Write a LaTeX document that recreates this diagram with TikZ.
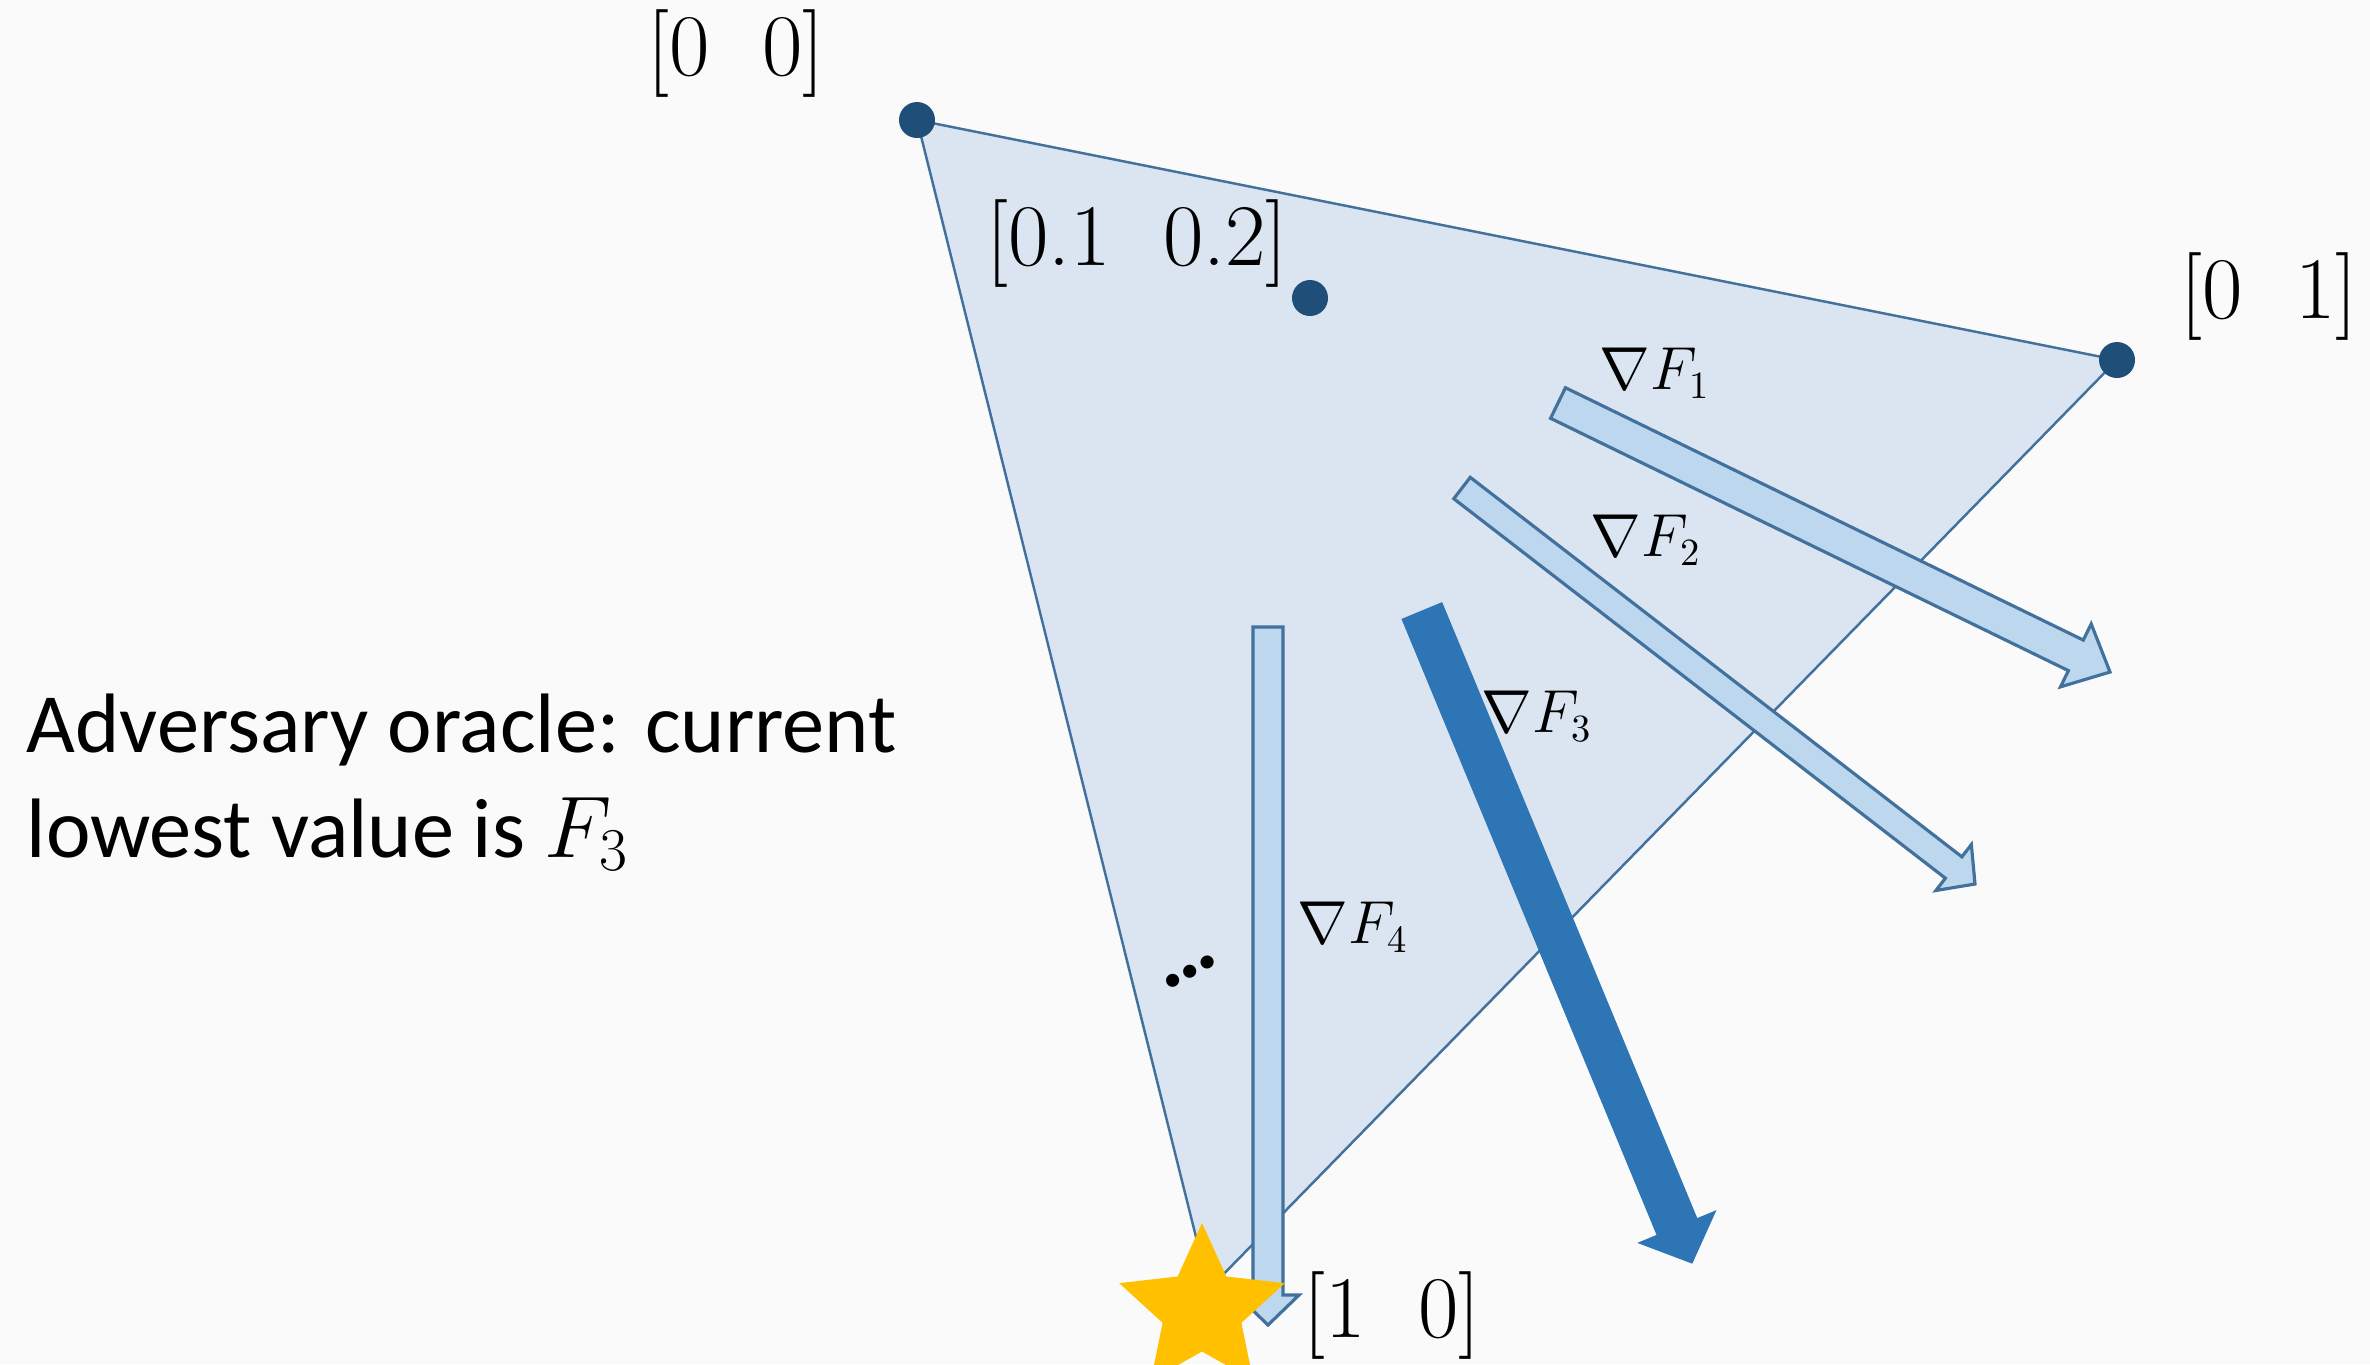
\documentclass[tikz,border=0pt]{standalone}
\usepackage{fontspec}
\newfontfamily\calibri{Carlito}
\usetikzlibrary{calc, shapes.geometric}

\definecolor{paper}{RGB}{250,250,250}
\definecolor{simplexfill}{RGB}{218,229,241}
\definecolor{edgeblue}{RGB}{65,113,156}
\definecolor{dotblue}{RGB}{31,78,121}
\definecolor{gradfill}{RGB}{189,215,238}
\definecolor{bestblue}{RGB}{46,117,182}
\definecolor{stargold}{RGB}{255,192,0}

% block arrow: style, tail, tip, half shaft, half head, head length
\newcommand{\gradarrow}[6]{%
  \coordinate (hb) at ($(#3)!#6!(#2)$);
  \draw[#1] ($(#2)!#4!90:(#3)$) -- ($(hb)!#4!90:(#3)$) -- ($(hb)!#5!90:(#3)$)
    -- (#3) -- ($(hb)!#5!-90:(#3)$) -- ($(hb)!#4!-90:(#3)$) -- ($(#2)!#4!-90:(#3)$) -- cycle;
}

\begin{document}
\begin{tikzpicture}[
    vertex/.style={circle, fill=dotblue, inner sep=0pt, minimum size=3.6mm},
    corner/.style={font=\fontsize{25}{29}\selectfont, inner sep=0pt},
    gradlabel/.style={font=\fontsize{16}{19}\selectfont, inner sep=0pt},
    lightgrad/.style={fill=gradfill, draw=edgeblue, line width=0.9pt},
    bestgrad/.style={fill=bestblue, draw=bestblue, line width=0.3pt}
]
    \clip (0,0) rectangle (23.70,-13.64);
    \fill[paper] (0,0) rectangle (23.70,-13.64);

    % simplex corners
    \coordinate (C00) at (9.17,-1.20);
    \coordinate (C01) at (21.17,-3.60);
    \coordinate (C10) at (12.09,-12.89);
    \coordinate (Cmid) at (13.10,-2.98);

    \draw[fill=simplexfill, draw=edgeblue, line width=0.7pt] (C00) -- (C01) -- (C10) -- cycle;

    \node[vertex] (V00) at (C00) {};
    \node[vertex] (V01) at (C01) {};
    \node[vertex] (Vmid) at (Cmid) {};

    \node[corner] (L00) at (7.36,-0.54) {[0\hspace{0.6em}0]};
    \node[corner] (Lmid) at (11.37,-2.44) {[0.1\hspace{0.6em}0.2]};
    \node[corner] (L01) at (22.69,-2.97) {[0\hspace{0.6em}1]};

    % gradients
    \coordinate (T1) at (15.58,-4.03);
    \coordinate (H1) at (21.10,-6.72);
    \coordinate (T2) at (14.62,-4.88);
    \coordinate (H2) at (19.75,-8.84);
    \coordinate (T3) at (14.22,-6.11);
    \coordinate (H3) at (16.92,-12.63);
    \coordinate (T4) at (12.68,-6.27);
    \coordinate (H4) at (12.68,-13.25);

    \gradarrow{lightgrad}{T1}{H1}{0.17cm}{0.35cm}{0.38cm}
    \gradarrow{lightgrad}{T2}{H2}{0.135cm}{0.29cm}{0.27cm}
    \gradarrow{bestgrad}{T3}{H3}{0.215cm}{0.415cm}{0.39cm}
    \gradarrow{lightgrad}{T4}{H4}{0.15cm}{0.31cm}{0.30cm}

    \node[gradlabel] (G1) at (16.55,-3.73) {$\nabla F_1$};
    \node[gradlabel] (G2) at (16.46,-5.40) {$\nabla F_2$};
    \node[gradlabel] (G3) at (15.37,-7.16) {$\nabla F_3$};
    \node[gradlabel] (G4) at (13.53,-9.27) {$\nabla F_4$};

    \node[font=\calibri\fontsize{25}{25}\bfseries\selectfont, rotate=28, inner sep=0pt] (etc) at (11.90,-9.72) {…};

    % minimiser
    \node[star, star points=5, star point ratio=2.1, fill=stargold, inner sep=0pt,
          minimum size=1.74cm] (best) at (12.02,-13.10) {};
    \node[corner] (L10) at (13.92,-13.15) {[1\hspace{0.6em}0]};

    \node[anchor=base west, align=left, inner sep=0pt,
          font=\calibri\fontsize{24}{29.6}\selectfont] (oracle) at (0.26,-8.57)
          {Adversary oracle: current\\lowest value is $F_3$};
\end{tikzpicture}
\end{document}
